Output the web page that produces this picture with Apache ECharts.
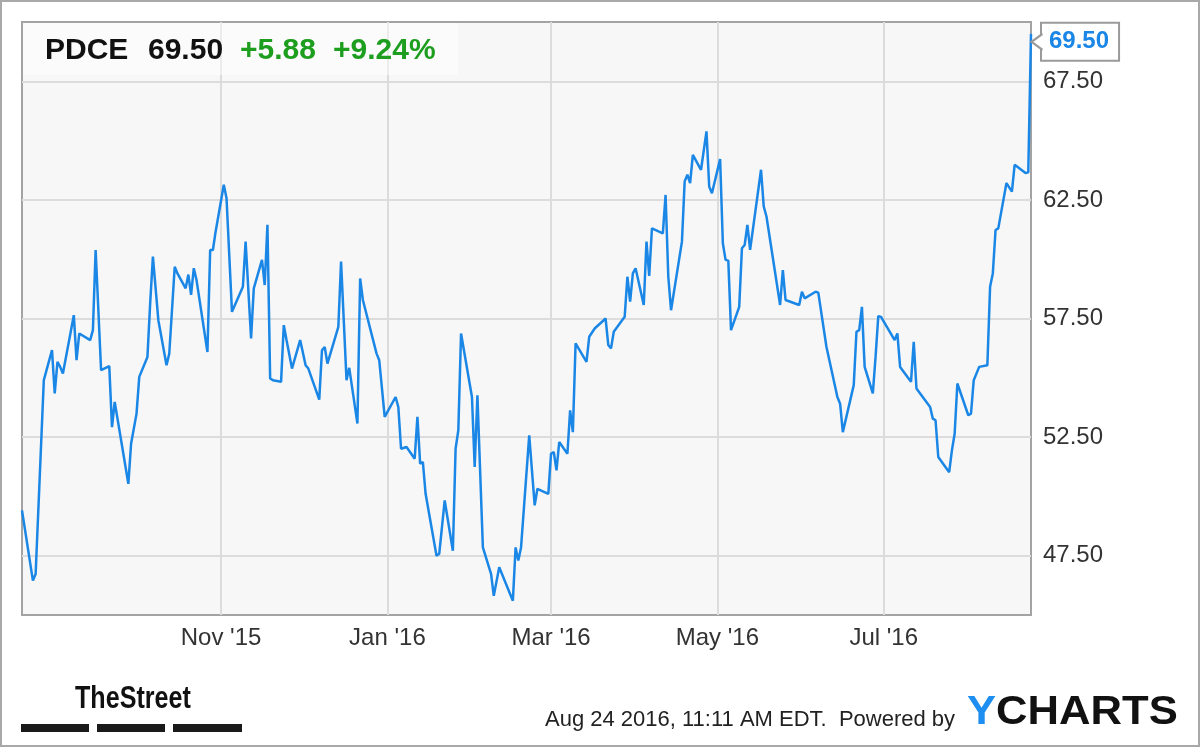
<!DOCTYPE html>
<html>
<head>
<meta charset="utf-8">
<script src="https://cdn.jsdelivr.net/npm/echarts@6/dist/echarts.min.js"></script>
<style>
  html, body { margin: 0; padding: 0; background: #fff; }
  #chart { width: 1200px; height: 747px; }
</style>
</head>
<body>
<div id="chart"></div>
<script>
// ---- data ----
const ticker = 'PDCE';
const lastPrice = '69.50';
const change = '+5.88';
const changePct = '+9.24%';
const stamp = 'Aug 24 2016, 11:11 AM EDT.  Powered by';

const xTickDates = ['2015-11-01', '2016-01-01', '2016-03-01', '2016-05-01', '2016-07-01'];
const yTicks = [47.5, 52.5, 57.5, 62.5, 67.5];

const dates = [
 '2015-08-20','2015-08-24','2015-08-25','2015-08-28','2015-08-31','2015-09-01','2015-09-02','2015-09-03','2015-09-04','2015-09-08',
 '2015-09-09','2015-09-10','2015-09-14','2015-09-15','2015-09-16','2015-09-18','2015-09-21','2015-09-22','2015-09-23','2015-09-28',
 '2015-09-29','2015-10-01','2015-10-02','2015-10-05','2015-10-06','2015-10-07','2015-10-09','2015-10-12','2015-10-13','2015-10-15',
 '2015-10-16','2015-10-19','2015-10-20','2015-10-21','2015-10-22','2015-10-23','2015-10-27','2015-10-28','2015-10-29','2015-10-30',
 '2015-11-02','2015-11-03','2015-11-05','2015-11-09','2015-11-10','2015-11-12','2015-11-13','2015-11-16','2015-11-17','2015-11-18',
 '2015-11-19','2015-11-20','2015-11-23','2015-11-24','2015-11-25','2015-11-27','2015-11-30','2015-12-02','2015-12-03','2015-12-07',
 '2015-12-08','2015-12-09','2015-12-10','2015-12-14','2015-12-15','2015-12-17','2015-12-18','2015-12-21','2015-12-22','2015-12-23',
 '2015-12-28','2015-12-29','2015-12-31','2016-01-04','2016-01-05','2016-01-06','2016-01-08','2016-01-11','2016-01-12','2016-01-13',
 '2016-01-14','2016-01-15','2016-01-19','2016-01-20','2016-01-22','2016-01-25','2016-01-26','2016-01-27','2016-01-28','2016-02-01',
 '2016-02-02','2016-02-03','2016-02-05','2016-02-08','2016-02-09','2016-02-11','2016-02-16','2016-02-17','2016-02-18','2016-02-19',
 '2016-02-22','2016-02-24','2016-02-25','2016-02-29','2016-03-01','2016-03-02','2016-03-03','2016-03-04','2016-03-07','2016-03-08',
 '2016-03-09','2016-03-10','2016-03-14','2016-03-15','2016-03-17','2016-03-21','2016-03-22','2016-03-23','2016-03-24','2016-03-28',
 '2016-03-29','2016-03-30','2016-03-31','2016-04-01','2016-04-04','2016-04-05','2016-04-06','2016-04-07','2016-04-11','2016-04-12',
 '2016-04-13','2016-04-14','2016-04-18','2016-04-19','2016-04-20','2016-04-21','2016-04-22','2016-04-25','2016-04-27','2016-04-28',
 '2016-04-29','2016-05-02','2016-05-03','2016-05-04','2016-05-05','2016-05-06','2016-05-09','2016-05-10','2016-05-11','2016-05-12',
 '2016-05-13','2016-05-17','2016-05-18','2016-05-19','2016-05-24','2016-05-25','2016-05-26','2016-05-31','2016-06-01','2016-06-02',
 '2016-06-06','2016-06-07','2016-06-10','2016-06-14','2016-06-15','2016-06-16','2016-06-20','2016-06-21','2016-06-22','2016-06-23',
 '2016-06-24','2016-06-27','2016-06-28','2016-06-29','2016-06-30','2016-07-05','2016-07-06','2016-07-07','2016-07-11','2016-07-12',
 '2016-07-13','2016-07-18','2016-07-19','2016-07-20','2016-07-21','2016-07-25','2016-07-26','2016-07-27','2016-07-28','2016-08-01',
 '2016-08-02','2016-08-03','2016-08-05','2016-08-08','2016-08-09','2016-08-10','2016-08-11','2016-08-12','2016-08-15','2016-08-17',
 '2016-08-18','2016-08-22','2016-08-23','2016-08-24'
];

const prices = [
 49.41,46.45,46.73,54.90,56.17,54.34,55.67,55.46,55.18,57.64,
 55.74,56.87,56.59,57.01,60.39,55.32,55.49,52.92,53.98,50.53,
 52.22,53.49,55.04,55.88,58.14,60.11,57.43,55.53,56.02,59.68,
 59.40,58.77,59.35,58.50,59.62,59.12,56.09,60.39,60.39,61.16,
 63.14,62.57,57.78,58.84,60.74,56.66,58.77,59.97,58.91,61.45,
 54.97,54.90,54.83,57.22,56.59,55.39,56.59,55.53,55.39,54.08,
 56.16,56.30,55.60,57.15,59.90,54.90,55.42,53.07,59.19,58.28,
 56.03,55.74,53.35,54.19,53.77,52.01,52.08,51.59,53.35,51.38,
 51.45,50.11,47.50,47.58,49.83,47.71,52.01,52.79,56.87,54.19,
 51.24,54.26,47.85,46.73,45.81,47.01,45.60,47.85,47.30,47.85,
 52.57,49.62,50.32,50.11,51.80,51.87,51.10,52.29,51.80,53.63,
 52.71,56.45,55.67,56.73,57.08,57.50,56.38,56.24,56.94,57.57,
 59.26,58.21,59.40,59.62,58.07,60.74,59.30,61.30,61.09,62.71,
 59.26,57.85,60.74,63.28,63.56,63.21,64.40,63.77,65.39,63.06,
 62.78,64.22,60.67,59.97,59.94,57.01,57.99,60.46,60.60,61.45,
 60.39,63.77,62.22,61.80,58.07,59.54,58.28,58.07,58.63,58.35,
 58.63,58.59,56.30,54.19,53.91,52.71,54.69,56.94,57.01,57.99,
 55.46,54.34,55.88,57.60,57.57,56.59,56.87,55.46,54.83,56.52,
 54.55,53.77,53.28,53.21,51.66,51.02,51.94,52.64,54.76,53.42,
 53.49,54.90,55.46,55.53,58.84,59.40,61.23,61.30,63.21,62.85,
 63.98,63.63,63.66,69.50
];

// ---- helpers ----
function toTs(s) {
  const p = s.split('-').map(Number);
  return new Date(p[0], p[1] - 1, p[2]).getTime();
}
const MONTHS = ['Jan','Feb','Mar','Apr','May','Jun','Jul','Aug','Sep','Oct','Nov','Dec'];
const seriesData = dates.map((d, i) => [toTs(d), prices[i]]);
const lastPoint = seriesData[seriesData.length - 1];
const xTicks = xTickDates.map(toTs);

const FONT = '"Liberation Sans", Arial, sans-serif';
const BLUE = '#1a86e6';
const GREEN = '#1e9e1e';

const chart = echarts.init(document.getElementById('chart'), null, { renderer: 'canvas' });

chart.setOption({
  animation: false,
  backgroundColor: '#ffffff',
  textStyle: { fontFamily: FONT },
  grid: {
    left: 22, right: 169, top: 22, bottom: 132,
    show: true,
    backgroundColor: '#f7f7f7',
    borderColor: '#a3a3a3',
    borderWidth: 2
  },
  xAxis: {
    type: 'value',
    min: toTs(dates[0]),
    max: toTs(dates[dates.length - 1]),
    axisLine: { show: false },
    axisTick: { show: false, customValues: xTicks },
    splitLine: { show: true, lineStyle: { color: '#dcdcdc', width: 2 } },
    axisLabel: {
      customValues: xTicks,
      color: '#333',
      fontSize: 24,
      fontFamily: FONT,
      margin: 11,
      formatter: function (v) {
        const d = new Date(v);
        return MONTHS[d.getMonth()] + " '" + String(d.getFullYear()).slice(2);
      }
    }
  },
  yAxis: {
    type: 'value',
    position: 'right',
    min: 45,
    max: 70,
    axisLine: { show: false },
    axisTick: { show: false, customValues: yTicks },
    splitLine: { show: true, lineStyle: { color: '#dcdcdc', width: 2 } },
    axisLabel: {
      customValues: yTicks,
      color: '#333',
      fontSize: 24,
      fontFamily: FONT,
      margin: 12,
      formatter: function (v) { return v.toFixed(2); }
    }
  },
  series: [{
    type: 'line',
    data: seriesData,
    showSymbol: false,
    symbol: 'none',
    lineStyle: { color: BLUE, width: 2.5 },
    endLabel: {
      show: true,
      formatter: function () { return lastPoint[1].toFixed(2); },
      color: BLUE,
      fontWeight: 'bold',
      fontSize: 24,
      fontFamily: FONT,
      backgroundColor: '#ffffff',
      borderColor: '#9a9a9a',
      borderWidth: 2,
      padding: [7, 9, 5, 7],
      distance: 11,
      offset: [0, 8]
    },
    markPoint: {
      silent: true,
      symbol: 'path://M11,0 L0,8 L11,16',
      symbolSize: [11, 16],
      symbolOffset: [6, 8],
      itemStyle: { color: '#ffffff', borderColor: '#9a9a9a', borderWidth: 2 },
      label: { show: false },
      data: [{ coord: lastPoint }]
    }
  }],
  graphic: [
    { type: 'rect', silent: true, z: 100,
      shape: { x: 1, y: 1, width: 1198, height: 745 },
      style: { fill: 'none', stroke: '#a9a9a9', lineWidth: 2 } },
    { type: 'rect', silent: true, z: 5,
      shape: { x: 23, y: 23, width: 435, height: 52 },
      style: { fill: 'rgba(255,255,255,0.45)' } },
    { type: 'text', z: 10, style: { text: ticker, x: 45, y: 51, font: 'bold 30px ' + FONT, fill: '#111', textVerticalAlign: 'middle' } },
    { type: 'text', z: 10, style: { text: lastPrice, x: 148, y: 51, font: 'bold 30px ' + FONT, fill: '#111', textVerticalAlign: 'middle' } },
    { type: 'text', z: 10, style: { text: change, x: 240, y: 51, font: 'bold 30px ' + FONT, fill: GREEN, textVerticalAlign: 'middle' } },
    { type: 'text', z: 10, style: { text: changePct, x: 333, y: 51, font: 'bold 30px ' + FONT, fill: GREEN, textVerticalAlign: 'middle' } },
    { type: 'text', z: 10, x: 75, y: 699, scaleX: 0.81,
      style: { text: 'TheStreet', x: 0, y: 0, font: 'bold 31px ' + FONT, fill: '#111', textVerticalAlign: 'middle' } },
    { type: 'rect', z: 10, shape: { x: 21, y: 724, width: 68, height: 8 }, style: { fill: '#1a1a1a' } },
    { type: 'rect', z: 10, shape: { x: 97, y: 724, width: 68, height: 8 }, style: { fill: '#1a1a1a' } },
    { type: 'rect', z: 10, shape: { x: 173, y: 724, width: 69, height: 8 }, style: { fill: '#1a1a1a' } },
    { type: 'text', z: 10, style: { text: stamp, x: 545, y: 720, font: '22px ' + FONT, fill: '#222', textVerticalAlign: 'middle' } },
    { type: 'text', z: 10, x: 967, y: 713, scaleX: 1.09,
      style: { text: '{a|Y}{b|CHARTS}', x: 0, y: 0, font: 'bold 40px ' + FONT, textVerticalAlign: 'middle',
        rich: { a: { fill: '#1e8ff0', font: 'bold 40px ' + FONT }, b: { fill: '#111', font: 'bold 40px ' + FONT } } } }
  ]
});
</script>
</body>
</html>
